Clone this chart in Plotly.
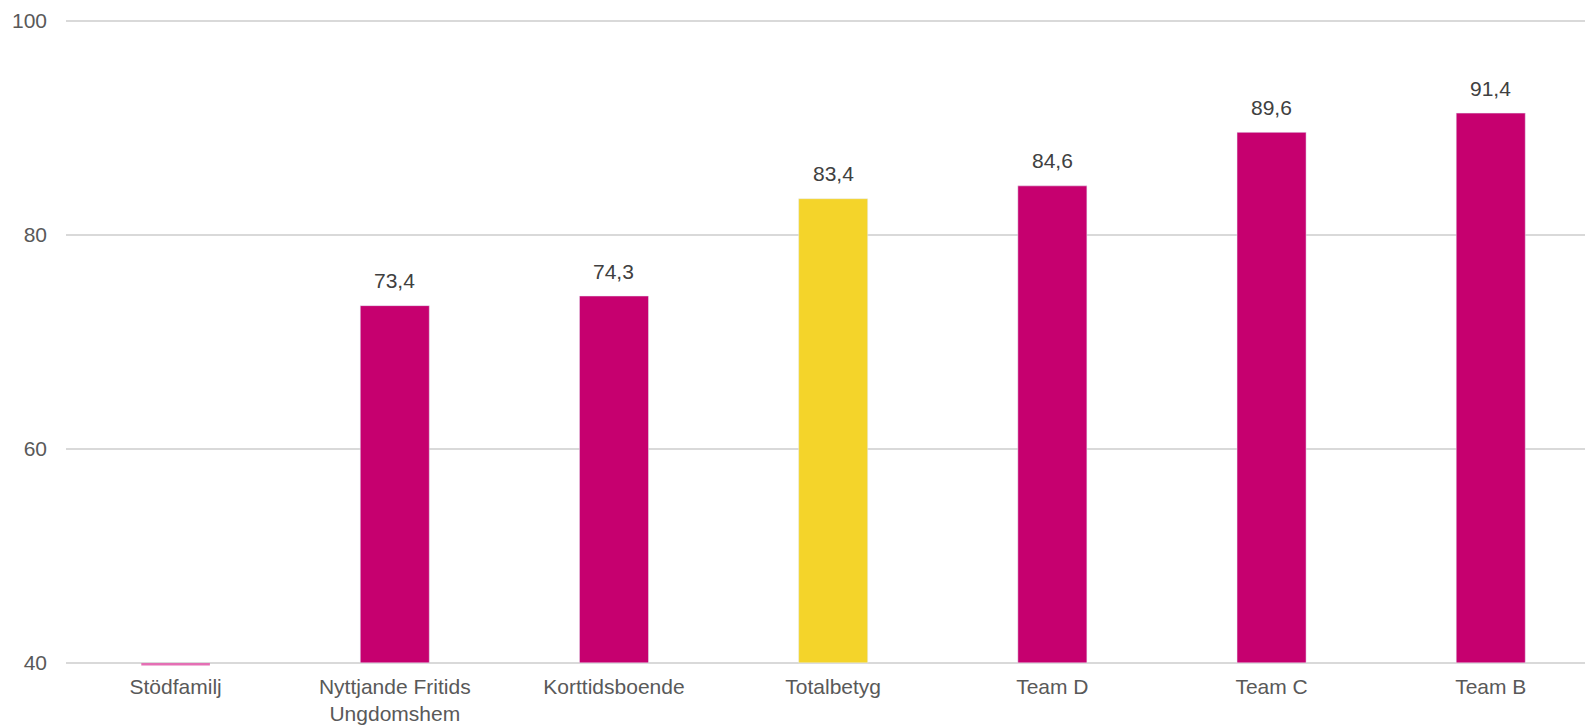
import plotly.graph_objects as go

categories = ["Stödfamilj", "Nyttjande Fritids<br>Ungdomshem", "Korttidsboende",
              "Totalbetyg", "Team D", "Team C", "Team B"]
values = [None, 73.4, 74.3, 83.4, 84.6, 89.6, 91.4]
labels = ["", "73,4", "74,3", "83,4", "84,6", "89,6", "91,4"]
colors = ["#c6006f", "#c6006f", "#c6006f", "#f4d42a", "#c6006f", "#c6006f", "#c6006f"]
axis_floor = 40
# Stödfamilj has only a thin marker just below the axis floor
stod_category = ["Stödfamilj"]
stod_value = [39.86]

FONT = "Liberation Sans, Arial"

fig = go.Figure()
fig.add_trace(go.Bar(
    x=categories, y=[None if v is None else v - axis_floor for v in values], base=axis_floor,
    marker_color=colors, hoverinfo="skip", showlegend=False, width=0.315,
))
fig.add_trace(go.Scatter(
    x=stod_category, y=stod_value, mode="markers",
    marker=dict(symbol="line-ew", size=49, line=dict(color="#e46fb4", width=2.5)),
    cliponaxis=False, hoverinfo="skip", showlegend=False,
))
for c, v, t in zip(categories, values, labels):
    if v is not None:
        fig.add_annotation(x=c, y=v, text=t, showarrow=False, yanchor="middle",
                           yshift=25, font=dict(size=21, color="#404040", family=FONT))

fig.update_layout(
    width=1585, height=725,
    plot_bgcolor="white", paper_bgcolor="white",
    margin=dict(l=66, r=0, t=19, b=60),
    font=dict(family=FONT, color="#595959", size=21),
    xaxis=dict(range=[-0.5, 6.43], showgrid=False, showline=False, ticks="",
               ticklabelstandoff=7, tickfont=dict(size=21, color="#595959")),
    yaxis=dict(range=[39.8, 100.2], tickvals=[40, 60, 80, 100], showgrid=True,
               gridcolor="#d9d9d9", gridwidth=1.5, zeroline=False, showline=False,
               ticks="", ticklabelstandoff=18, tickfont=dict(size=21, color="#595959")),
)
fig.write_html("out.html")
